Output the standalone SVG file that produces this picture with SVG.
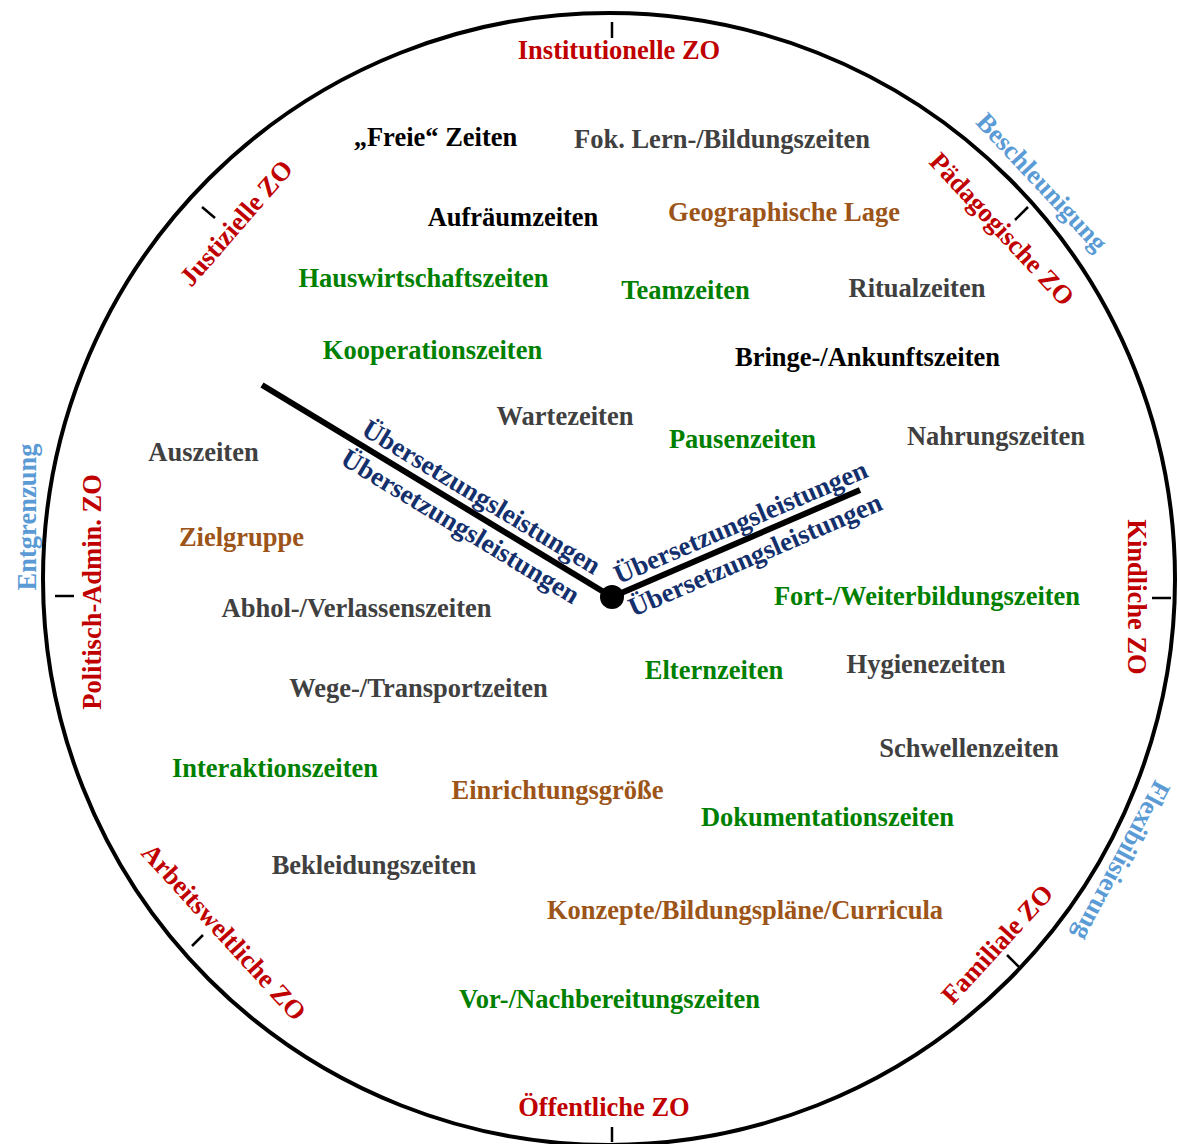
<svg xmlns="http://www.w3.org/2000/svg" width="1178" height="1144" viewBox="0 0 1178 1144">
<style>
text{font-family:"Liberation Serif","Times New Roman",serif;font-weight:bold;font-size:26.5px;text-anchor:middle}
.red{fill:#c00000}
.blk{fill:#000000}
.gry{fill:#404040}
.grn{fill:#008000}
.brn{fill:#9c5418}
.lb{fill:#5b9bd5}
.nv{fill:#14306c;font-size:27px}
.rot{dominant-baseline:central}
.tick{stroke:#000;stroke-width:2.5}
.hand{stroke:#000;stroke-width:6;stroke-linecap:butt}
</style>
<rect width="1178" height="1144" fill="#ffffff"/>
<g id="clock-face">
<circle cx="609" cy="579" r="566" fill="none" stroke="#000" stroke-width="4"/>
<line class="tick" x1="612" y1="22" x2="612" y2="38"/>
<line class="tick" x1="612" y1="1127" x2="612" y2="1142"/>
<line class="tick" x1="55" y1="596" x2="74" y2="596"/>
<line class="tick" x1="1152" y1="598" x2="1171" y2="598"/>
<line class="tick" x1="202" y1="207" x2="215" y2="218"/>
<line class="tick" x1="1015" y1="220" x2="1028" y2="207"/>
<line class="tick" x1="192" y1="946" x2="203" y2="935"/>
<line class="tick" x1="1007" y1="955" x2="1019" y2="967"/>
</g>
<g id="zo-labels">
<text class="red" x="619" y="59">Institutionelle ZO</text>
<text class="red" x="604" y="1116">Öffentliche ZO</text>
<text class="red rot" transform="translate(236,223) rotate(-49)">Justizielle ZO</text>
<text class="red rot" transform="translate(1002,229) rotate(47)">Pädagogische ZO</text>
<text class="red rot" transform="translate(224,932) rotate(47.5)">Arbeitsweltliche ZO</text>
<text class="red rot" transform="translate(997,944) rotate(-47.5)">Familiale ZO</text>
<text class="red rot" transform="translate(92,592) rotate(-90)">Politisch-Admin. ZO</text>
<text class="red rot" transform="translate(1137,597) rotate(90)">Kindliche ZO</text>
</g>
<g id="trend-labels">
<text class="lb rot" transform="translate(1042,182) rotate(47)">Beschleunigung</text>
<text class="lb rot" transform="translate(27,517) rotate(-90)">Entgrenzung</text>
<text class="lb rot" transform="translate(1122,861) rotate(118)">Flexibilisierung</text>
</g>
<g id="time-labels">
<text class="blk" x="435.5" y="146">„Freie“ Zeiten</text>
<text class="gry" x="722" y="148">Fok. Lern-/Bildungszeiten</text>
<text class="blk" x="513" y="226">Aufräumzeiten</text>
<text class="brn" x="784" y="221">Geographische Lage</text>
<text class="grn" x="423.5" y="287">Hauswirtschaftszeiten</text>
<text class="grn" x="685.5" y="299">Teamzeiten</text>
<text class="gry" x="917" y="297">Ritualzeiten</text>
<text class="grn" x="432.5" y="359">Kooperationszeiten</text>
<text class="blk" x="867.5" y="366">Bringe-/Ankunftszeiten</text>
<text class="gry" x="565" y="425">Wartezeiten</text>
<text class="grn" x="742.5" y="448">Pausenzeiten</text>
<text class="gry" x="996" y="445">Nahrungszeiten</text>
<text class="gry" x="203.5" y="461">Auszeiten</text>
<text class="brn" x="241.5" y="546">Zielgruppe</text>
<text class="gry" x="356.5" y="617">Abhol-/Verlassenszeiten</text>
<text class="grn" x="927" y="605">Fort-/Weiterbildungszeiten</text>
<text class="grn" x="714" y="679">Elternzeiten</text>
<text class="gry" x="926" y="673">Hygienezeiten</text>
<text class="gry" x="418.5" y="697">Wege-/Transportzeiten</text>
<text class="gry" x="969" y="757">Schwellenzeiten</text>
<text class="grn" x="275" y="777">Interaktionszeiten</text>
<text class="brn" x="557.5" y="799">Einrichtungsgröße</text>
<text class="grn" x="827.5" y="826">Dokumentationszeiten</text>
<text class="gry" x="374" y="874">Bekleidungszeiten</text>
<text class="brn" x="745" y="919">Konzepte/Bildungspläne/Curricula</text>
<text class="grn" x="609.5" y="1008">Vor-/Nachbereitungszeiten</text>
</g>
<g id="connectors">
<line class="hand" x1="262" y1="385" x2="612" y2="597"/>
<line class="hand" x1="612" y1="597" x2="860" y2="490"/>
<circle cx="612" cy="597" r="12" fill="#000"/>
</g>
<g id="hand-labels">
<text class="nv" transform="translate(476.8,504.6) rotate(31.2)">Übersetzungsleistungen</text>
<text class="nv" transform="translate(455.8,534) rotate(31.2)">Übersetzungsleistungen</text>
<text class="nv" transform="translate(744.1,530.2) rotate(-23.3)">Übersetzungsleistungen</text>
<text class="nv" transform="translate(758.7,563.1) rotate(-23.3)">Übersetzungsleistungen</text>
</g>
</svg>
